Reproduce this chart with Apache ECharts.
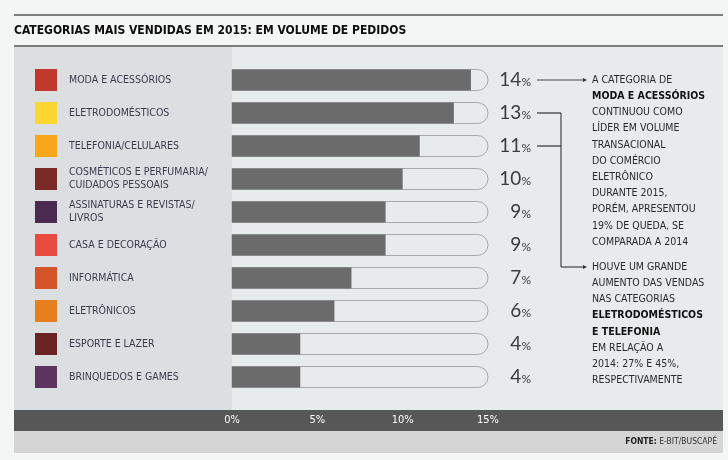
<!DOCTYPE html>
<html><head><meta charset="utf-8">
<script src="https://cdn.jsdelivr.net/npm/echarts@6/dist/echarts.min.js"></script>
<style>html,body{margin:0;padding:0;background:#f4f5f5}#c{width:728px;height:460px}</style>
</head><body><div id="c"></div>
<script>
const title = 'CATEGORIAS MAIS VENDIDAS EM 2015: EM VOLUME DE PEDIDOS';
const categories = ['MODA E ACESSÓRIOS','ELETRODOMÉSTICOS','TELEFONIA/CELULARES','COSMÉTICOS E PERFUMARIA/\nCUIDADOS PESSOAIS','ASSINATURAS E REVISTAS/\nLIVROS','CASA E DECORAÇÃO','INFORMÁTICA','ELETRÔNICOS','ESPORTE E LAZER','BRINQUEDOS E GAMES'];
const values = [14,13,11,10,9,9,7,6,4,4];
const swatchColors = ['#c0392b','#fdd633','#f8a61c','#7a2b28','#4b2a4f','#e84c3e','#d45528','#e6801f','#6a2421','#5d3360'];
const xTicks = [0,5,10,15];
const note1 = ['A CATEGORIA DE','{b|MODA E ACESSÓRIOS}','CONTINUOU COMO','LÍDER EM VOLUME','TRANSACIONAL','DO COMÉRCIO','ELETRÔNICO','DURANTE 2015,','PORÉM, APRESENTOU','19% DE QUEDA, SE','COMPARADA A 2014'];
const note2 = ['HOUVE UM GRANDE','AUMENTO DAS VENDAS','NAS CATEGORIAS','{b|ELETRODOMÉSTICOS}','{b|E TELEFONIA}','EM RELAÇÃO A','2014: 27% E 45%,','RESPECTIVAMENTE'];
const source = '{b|FONTE:} E-BIT/BUSCAPÉ';

const chart = echarts.init(document.getElementById('c'));
const cond = 'DejaVu Sans Condensed, Liberation Sans Narrow, sans-serif';
const swRich = {};
swatchColors.forEach((c,i)=>{ swRich['s'+i] = {width:22,height:22,backgroundColor:c}; });

const bgGraphics = [
  {type:'rect', z:-10, shape:{x:14,y:47,width:218,height:363}, style:{fill:'#dcdfe2'}},
  {type:'rect', z:-10, shape:{x:232,y:47,width:491,height:363}, style:{fill:'#e8ebec'}},
  {type:'rect', z:-10, shape:{x:14,y:410,width:709,height:21}, style:{fill:'#575757'}},
  {type:'rect', z:-10, shape:{x:14,y:431,width:709,height:22}, style:{fill:'#d5d5d5'}},
  {type:'line', shape:{x1:14,y1:15,x2:723,y2:15}, style:{stroke:'#555',lineWidth:1.5}},
  {type:'line', shape:{x1:14,y1:46,x2:723,y2:46}, style:{stroke:'#555',lineWidth:1.5}},
  {type:'text', left:14, top:25, style:{text:title, font:'bold 12px '+cond, fill:'#0d0d0d'}},
  {type:'text', right:11, top:437, style:{text:source, font:'8.5px '+cond, fill:'#333', rich:{b:{fontWeight:'bold',fontSize:8.5,fontFamily:cond,fill:'#222'}}}}
];

chart.setOption({
  animation:false,
  backgroundColor:'#f4f5f5',
  grid:{left:232, top:63.5, height:330, width:256},
  xAxis:{type:'value', min:0, max:15, interval:5, splitLine:{show:false}, axisLine:{show:false}, axisTick:{show:false},
    axisLabel:{formatter:v=> xTicks.includes(v) ? v+'%' : '', color:'#fff', fontSize:11, fontFamily:cond, margin:21}},
  yAxis:[
    {type:'category', position:'left', inverse:true, data:categories, axisLine:{show:false}, axisTick:{show:false},
      axisLabel:{align:'left', margin:163, color:'#3a3c4c', fontSize:10.5, fontFamily:cond, lineHeight:13}},
    {type:'category', position:'left', inverse:true, data:categories, axisLine:{show:false}, axisTick:{show:false},
      axisLabel:{align:'left', margin:197, formatter:(v,i)=>'{s'+i+'|}', rich:swRich}},
    {type:'category', position:'right', inverse:true, data:categories, axisLine:{show:false}, axisTick:{show:false},
      axisLabel:{align:'right', margin:43, formatter:(v,i)=>'{n|'+values[i]+'}{p|%}',
        rich:{n:{fontSize:19, fontFamily:'Lato, Open Sans, sans-serif', fontWeight:'normal', color:'#3a3a3a'},
              p:{fontSize:12, fontFamily:'Lato, Open Sans, sans-serif', fontWeight:'normal', color:'#3a3a3a', padding:[5,0,0,0]}}}}
  ],
  series:[{type:'bar', yAxisIndex:0, data:values, barWidth:21, itemStyle:{color:'#6b6b6b'},
    showBackground:true, backgroundStyle:{color:'#e8ebec', borderColor:'#a8a8a8', borderWidth:1, borderRadius:[0,11,11,0]}}],
  graphic:bgGraphics
});

const yOf = i => chart.convertToPixel({yAxisIndex:0}, categories[i]);
const y0 = yOf(0), y1 = yOf(1), y2 = yOf(2);
const yHouve = 267;
const arrow = (x,y)=>({type:'polygon', shape:{points:[[x-4,y-2],[x,y],[x-4,y+2]]}, style:{fill:'#333'}});
const noteStyle = (lines)=>({text:lines.join('\n'), font:'10.5px '+cond, fill:'#2a2a2a', lineHeight:16.2,
  rich:{b:{fontWeight:'bold', fontSize:10.5, fontFamily:cond, fill:'#111', lineHeight:16.2}}});
chart.setOption({graphic: bgGraphics.concat([
  {type:'line', shape:{x1:537,y1:y0,x2:584,y2:y0}, style:{stroke:'#444',lineWidth:1.2}},
  arrow(587,y0),
  {type:'line', shape:{x1:537,y1:y1,x2:561,y2:y1}, style:{stroke:'#555',lineWidth:1.5}},
  {type:'line', shape:{x1:537,y1:y2,x2:561,y2:y2}, style:{stroke:'#555',lineWidth:1.5}},
  {type:'line', shape:{x1:561,y1:y1,x2:561,y2:yHouve}, style:{stroke:'#444',lineWidth:1.2}},
  {type:'line', shape:{x1:561,y1:yHouve,x2:584,y2:yHouve}, style:{stroke:'#444',lineWidth:1.2}},
  arrow(587,yHouve),
  {type:'text', x:592, y:y0-8.1, style:noteStyle(note1)},
  {type:'text', x:592, y:yHouve-8.1, style:noteStyle(note2)}
])});
</script></body></html>
